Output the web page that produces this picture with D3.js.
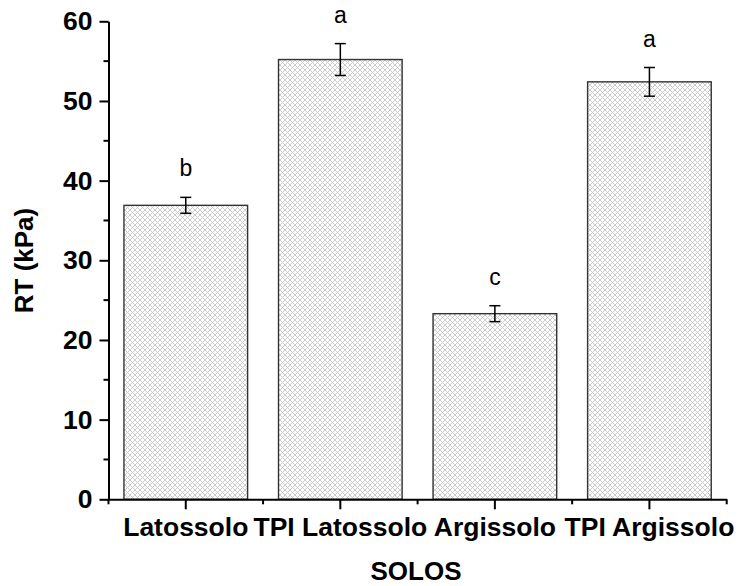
<!DOCTYPE html>
<html><head><meta charset="utf-8">
<script src="https://cdn.jsdelivr.net/npm/d3@7"></script>
<style>
body{margin:0;background:#fff;}
svg{display:block;font-family:Arial,"Liberation Sans",sans-serif;}
</style></head>
<body>
<svg id="c" width="739" height="586"></svg>
<script>
const categories = ["Latossolo", "TPI Latossolo", "Argissolo", "TPI Argissolo"];
const means = [36.9, 55.2, 23.3, 52.4];
const errors = [1.0, 2.0, 1.0, 1.8];
const letters = ["b", "a", "c", "a"];
const yTicks = [0, 10, 20, 30, 40, 50, 60];
const yMinorTicks = [5, 15, 25, 35, 45, 55];
const yLabel = "RT (kPa)";
const xLabel = "SOLOS";

const svg = d3.select("#c");
const x = d3.scaleBand().domain(categories).range([108.5, 726.7]).paddingInner(0.2).paddingOuter(0.1);
const y = d3.scaleLinear().domain([0, 60]).range([499.3, 21.3]);

// pattern
const defs = svg.append("defs");
const pat = defs.append("pattern").attr("id", "hatch").attr("patternUnits", "userSpaceOnUse")
  .attr("width", 5).attr("height", 5);
pat.append("rect").attr("width", 5).attr("height", 5).attr("fill", "#fff");
pat.append("path").attr("d", "M0,0L5,5M5,0L0,5M-1,4L1,6M4,-1L6,1M-1,1L1,-1M4,6L6,4")
  .attr("stroke", "#c6c6c6").attr("stroke-width", 0.9);

// bars
svg.append("g").selectAll("rect").data(categories).join("rect")
  .attr("x", d => x(d)).attr("width", x.bandwidth())
  .attr("y", (d, i) => y(means[i])).attr("height", (d, i) => y(0) - y(means[i]))
  .attr("fill", "url(#hatch)").attr("stroke", "#333").attr("stroke-width", 1.4);

// error bars
const eg = svg.append("g").attr("stroke", "#000").attr("stroke-width", 1.5);
categories.forEach((c, i) => {
  const cx = x(c) + x.bandwidth() / 2;
  eg.append("line").attr("x1", cx).attr("x2", cx).attr("y1", y(means[i] + errors[i])).attr("y2", y(means[i] - errors[i]));
  eg.append("line").attr("x1", cx - 5.5).attr("x2", cx + 5.5).attr("y1", y(means[i] + errors[i])).attr("y2", y(means[i] + errors[i]));
  eg.append("line").attr("x1", cx - 5.5).attr("x2", cx + 5.5).attr("y1", y(means[i] - errors[i])).attr("y2", y(means[i] - errors[i]));
});

// letters
svg.append("g").selectAll("text").data(categories).join("text")
  .attr("x", d => x(d) + x.bandwidth() / 2)
  .attr("y", (d, i) => y(means[i] + errors[i]) - 21)
  .attr("text-anchor", "middle").attr("font-size", 23).attr("fill", "#000")
  .text((d, i) => letters[i]);

// y axis
const yAxis = svg.append("g").attr("transform", "translate(108.5,0)")
  .call(d3.axisLeft(y).tickValues(yTicks).tickSize(9).tickSizeOuter(0).tickPadding(7));
yAxis.attr("font-size", null).attr("font-family", null);
yAxis.select(".domain").attr("stroke-width", 2);
yAxis.selectAll(".tick line").attr("stroke-width", 2);
yAxis.selectAll(".tick text").style("font-size", "26.5px").style("font-weight", "bold").attr("fill", "#000");
yAxis.append("g").selectAll("line").data(yMinorTicks).join("line")
  .attr("x1", -5).attr("x2", 0).attr("y1", d => y(d)).attr("y2", d => y(d))
  .attr("stroke", "#000").attr("stroke-width", 2);

// x axis
const xAxis = svg.append("g").attr("transform", `translate(0,${y(0)})`)
  .call(d3.axisBottom(x).tickSize(10).tickSizeOuter(0).tickPadding(8));
xAxis.attr("font-size", null).attr("font-family", null);
xAxis.select(".domain").attr("stroke-width", 2);
xAxis.selectAll(".tick line").attr("stroke-width", 2);
xAxis.selectAll(".tick text").style("font-size", "26.5px").style("font-weight", "bold").attr("fill", "#000");
const bounds = categories.map(c => x(c) - x.step() * x.paddingInner() / 2).concat([x.range()[1]]);
bounds[0] = x.range()[0];
xAxis.append("g").selectAll("line").data(bounds).join("line")
  .attr("x1", d => d).attr("x2", d => d).attr("y1", 0).attr("y2", 5)
  .attr("stroke", "#000").attr("stroke-width", 2);

// axis titles
svg.append("text").attr("transform", "translate(33,260.5) rotate(-90)")
  .attr("text-anchor", "middle").style("font-size", "26px").style("font-weight", "bold").text(yLabel);
svg.append("text").attr("x", 416).attr("y", 580)
  .attr("text-anchor", "middle").style("font-size", "26px").style("font-weight", "bold").text(xLabel);
</script>
</body></html>
